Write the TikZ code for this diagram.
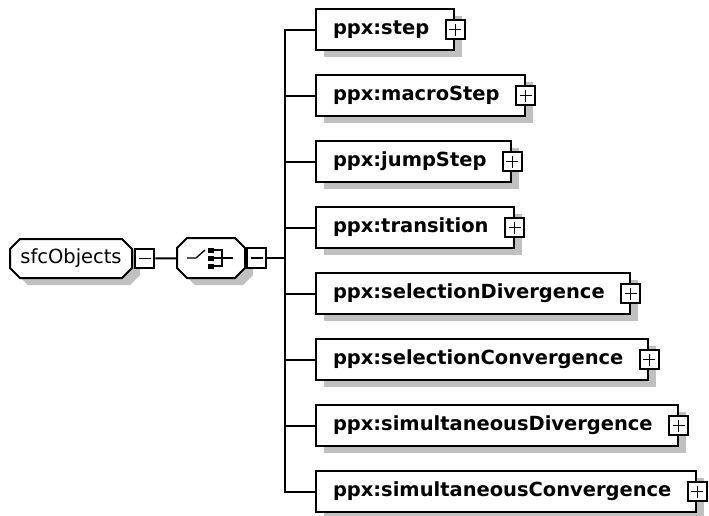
\documentclass[tikz,border=0pt]{standalone}
\usepackage{fontspec}
\setmainfont{DejaVu Sans}
\usetikzlibrary{positioning,shadows,backgrounds}
\definecolor{shadowgray}{RGB}{192,192,192}
\tikzset{
  treeline/.style={line width=1.5pt},
  shadowed/.style={general shadow={fill=shadowgray, shadow xshift=6pt, shadow yshift=-5.25pt}},
  element/.style={draw, fill=white, treeline, shadowed, rectangle,
    minimum height=30.75pt, inner xsep=12.75pt, inner ysep=0pt,
    font=\bfseries\fontsize{14.6pt}{17pt}\selectfont,
    text height=10.5pt, text depth=3pt,
    execute at end node={\hspace{6pt}}},
  compositor/.style={rectangle, inner sep=0pt, outer sep=0pt},
  octagon/.style={treeline, fill=white, shadowed},
  minusbox/.style={draw, fill=white, treeline, minimum size=14.5pt, inner sep=0pt,
    path picture={\draw[line width=1pt]
      ([xshift=-4.5pt]path picture bounding box.center) --
      ([xshift=4.5pt]path picture bounding box.center);}},
  plusbox/.style={draw, fill=white, treeline, minimum size=14.5pt, inner sep=0pt,
    path picture={\draw[line width=1pt]
      ([xshift=-4.5pt]path picture bounding box.center) --
      ([xshift=4.5pt]path picture bounding box.center)
      ([yshift=-4.5pt]path picture bounding box.center) --
      ([yshift=4.5pt]path picture bounding box.center);}}
}
\begin{document}
\begin{tikzpicture}[x=0.75pt, y=-0.75pt]
  \useasboundingbox (0,0) rectangle (709,515);
  % root element and sequence compositor
  \node[compositor, minimum width=91.5pt, minimum height=29.25pt,
    font=\fontsize{14.6pt}{17pt}\selectfont] (sfc) at (71,258.5) {sfcObjects};
  \node[minusbox, right=1.5pt of sfc] (sfc-minus) {};
  \node[compositor, minimum width=51pt, minimum height=30pt] (seq) at (211,258) {};
  \node[minusbox, right=0.75pt of seq] (seq-minus) {};
  \begin{scope}[on background layer]
    \foreach \n in {sfc,seq}
      \draw[octagon] ([xshift=7.5pt]\n.north west) -- ([xshift=-7.5pt]\n.north east)
        -- ([yshift=-7.5pt]\n.north east) -- ([yshift=7.5pt]\n.south east)
        -- ([xshift=-7.5pt]\n.south east) -- ([xshift=7.5pt]\n.south west)
        -- ([yshift=7.5pt]\n.south west) -- ([yshift=-7.5pt]\n.north west) -- cycle;
  \end{scope}
  \begin{scope}[shift={(seq.center)}]
    \draw[line width=1pt] (-24,0) -- (-15,0) -- (-6,-8);
    \fill (-3,-10.5) rectangle (3,-5.5);
    \fill (-3,-2.5) rectangle (3,2.5);
    \fill (-3,5.5) rectangle (3,10.5);
    \draw[line width=1pt] (3,-8) -| (11,8) -- (3,8);
    \draw[line width=1pt] (3,0) -- (22,0);
  \end{scope}
  \draw[treeline] (sfc-minus) -- (seq);
  \coordinate (bus) at (285,258);
  \draw[treeline] (seq-minus) -- (bus);
  % child elements
  \foreach \name [count=\i] in {step,macroStep,jumpStep,transition,selectionDivergence,
      selectionConvergence,simultaneousDivergence,simultaneousConvergence}{
    \node[element, anchor=west] (el-\i) at (315,{29.5+66*(\i-1)}) {ppx:\name};
    \node[plusbox] (plus-\i) at (el-\i.east) {};
  }
  \draw[treeline] (el-1.west) -| (bus) |- (el-8.west);
  \foreach \i in {2,...,7}
    \draw[treeline] (bus |- el-\i.west) -- (el-\i.west);
\end{tikzpicture}
\end{document}
